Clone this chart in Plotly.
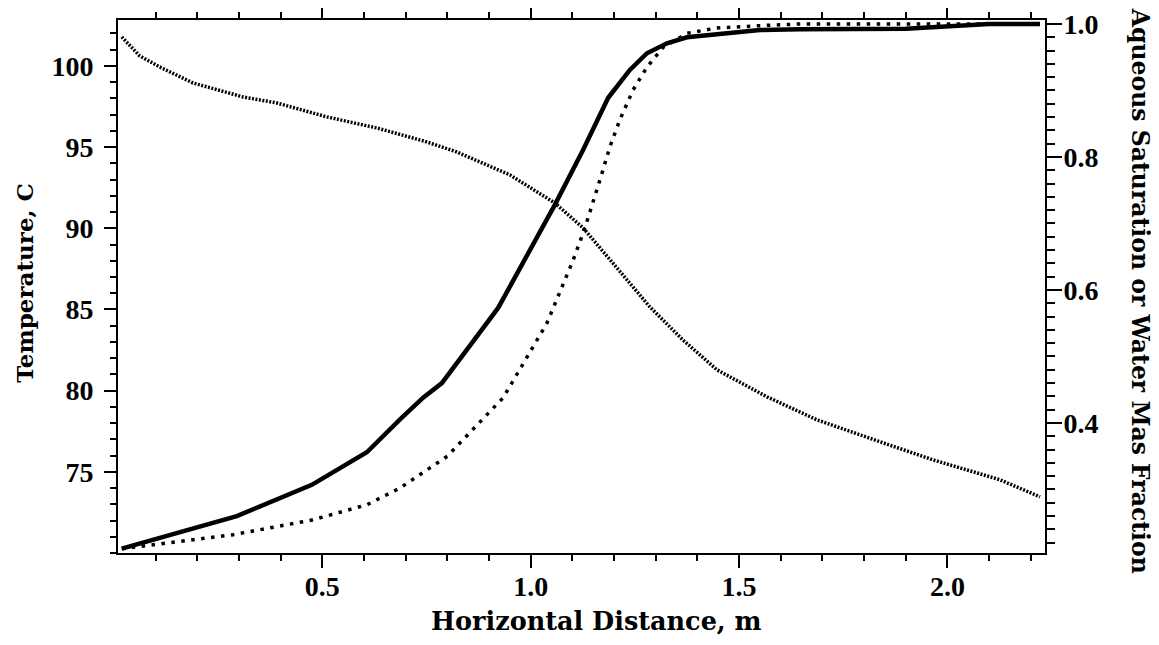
import plotly.graph_objects as go

# Horizontal distance (m) and values
sat_x = [0.019, 0.295, 0.475, 0.607, 0.686, 0.742, 0.787, 0.922, 1.058, 1.126, 1.186,
         1.238, 1.279, 1.327, 1.375, 1.550, 1.646, 1.900, 2.100, 2.222]
sat_y = [0.211, 0.260, 0.307, 0.356, 0.405, 0.438, 0.460, 0.573, 0.728, 0.811, 0.889,
         0.931, 0.956, 0.971, 0.980, 0.991, 0.992, 0.993, 1.000, 1.000]

frac_x = [0.019, 0.286, 0.475, 0.607, 0.686, 0.800, 0.934, 1.039, 1.102, 1.130, 1.166,
          1.190, 1.214, 1.246, 1.279, 1.318, 1.375, 1.447, 1.567, 1.646, 2.222]
frac_y = [0.211, 0.232, 0.254, 0.277, 0.302, 0.350, 0.438, 0.550, 0.645, 0.693, 0.765,
          0.815, 0.856, 0.901, 0.935, 0.965, 0.986, 0.994, 0.998, 1.000, 1.000]

temp_x = [0.019, 0.062, 0.110, 0.190, 0.310, 0.391, 0.511, 0.631, 0.751, 0.823, 0.950,
          1.058, 1.126, 1.198, 1.286, 1.365, 1.447, 1.567, 1.687, 1.845, 1.965, 2.126, 2.222]
temp_y = [101.79, 100.62, 99.94, 98.95, 98.09, 97.72, 96.86, 96.18, 95.32, 94.70, 93.29,
          91.56, 90.02, 87.87, 85.16, 83.13, 81.28, 79.62, 78.20, 76.79, 75.74, 74.51, 73.46]

x_ticks = [0.5, 1.0, 1.5, 2.0]
t_ticks = [75, 80, 85, 90, 95, 100]
s_ticks = [0.4, 0.6, 0.8, 1.0]

TICK_FONT = dict(family="Liberation Serif", size=28, color="black", weight="bold")
TITLE_FONT = "DejaVu Serif"

fig = go.Figure()
fig.add_trace(go.Scatter(x=temp_x, y=temp_y, mode="lines", name="Temperature",
                         line=dict(color="black", width=3.5, dash="2px,1.5px"),
                         yaxis="y"))
fig.add_trace(go.Scatter(x=sat_x, y=sat_y, mode="lines", name="Aqueous Saturation",
                         line=dict(color="black", width=4.5), yaxis="y2"))
fig.add_trace(go.Scatter(x=frac_x, y=frac_y, mode="lines", name="Water Mass Fraction",
                         line=dict(color="black", width=3.5, dash="3.5px,6.5px"),
                         yaxis="y2"))

fig.update_layout(
    width=1151, height=637,
    margin=dict(l=110, r=114, t=12, b=92),
    paper_bgcolor="white", plot_bgcolor="white",
    showlegend=False,
    xaxis=dict(range=[0.01, 2.234], tickmode="array", tickvals=x_ticks,
               ticktext=[f"{v:.1f}" for v in x_ticks], automargin=False,
               ticks="outside", ticklen=13, tickwidth=2, tickcolor="black",
               ticklabelstandoff=-6,
               showline=True, linewidth=2, linecolor="black", mirror="ticks",
               showgrid=False, zeroline=False, tickfont=TICK_FONT,
               minor=dict(tickmode="linear", tick0=0, dtick=0.1, ticks="outside",
                          ticklen=6, tickwidth=1.5, tickcolor="black", showgrid=False)),
    yaxis=dict(range=[70.0, 102.83], tickmode="array", tickvals=t_ticks,
               automargin=False, ticklabelstandoff=5,
               ticks="outside", ticklen=12, tickwidth=2, tickcolor="black",
               showline=True, linewidth=2, linecolor="black",
               showgrid=False, zeroline=False, tickfont=TICK_FONT,
               minor=dict(tickmode="linear", tick0=0, dtick=1, ticks="outside",
                          ticklen=6, tickwidth=1.5, tickcolor="black", showgrid=False)),
    yaxis2=dict(range=[0.2045, 1.006], overlaying="y", side="right",
                tickmode="array", tickvals=s_ticks, automargin=False,
                ticktext=[f"{v:.1f}" for v in s_ticks], ticklabelstandoff=-4,
                ticks="outside", ticklen=15, tickwidth=2, tickcolor="black",
                showline=True, linewidth=2, linecolor="black",
                showgrid=False, zeroline=False, tickfont=TICK_FONT,
                minor=dict(tickmode="linear", tick0=0, dtick=0.02, ticks="outside",
                           ticklen=8, tickwidth=1.5, tickcolor="black", showgrid=False)),
    annotations=[
        dict(text="<b>Horizontal Distance, m</b>", xref="paper", yref="paper",
             x=0.5157, y=-0.128, xanchor="center", yanchor="middle", showarrow=False,
             font=dict(family=TITLE_FONT, size=25.5, color="black")),
        dict(text="<b>Temperature, C</b>", xref="paper", yref="paper",
             x=-0.1009, y=0.508, xanchor="center", yanchor="middle", showarrow=False,
             textangle=-90, font=dict(family=TITLE_FONT, size=23, color="black")),
        dict(text="<b>Aqueous Saturation or Water Mas Fraction</b>", xref="paper", yref="paper",
             x=1.1026, y=0.4916, xanchor="center", yanchor="middle", showarrow=False,
             textangle=90, font=dict(family=TITLE_FONT, size=23.5, color="black")),
    ],
)

fig.write_html("out.html")
